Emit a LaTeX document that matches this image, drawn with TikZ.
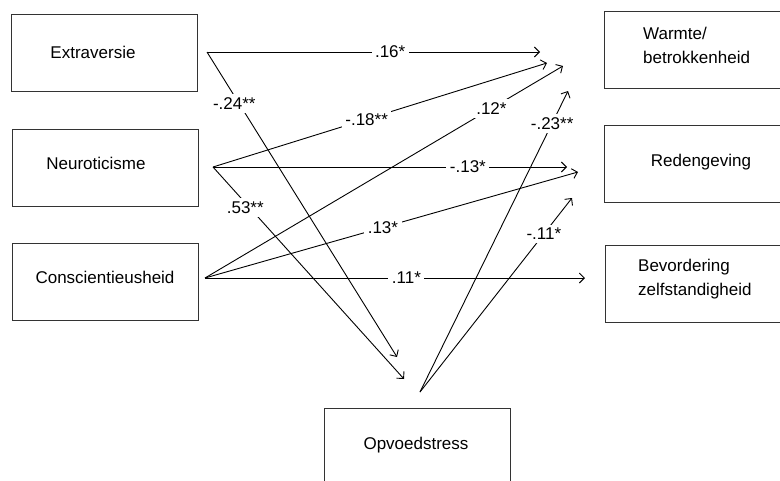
\documentclass[tikz,border=0pt]{standalone}
\usepackage{fontspec}
\setmainfont{Liberation Sans}
\usetikzlibrary{arrows.meta}
\begin{document}
\begin{tikzpicture}[x=1pt,y=-1pt,
  box/.style={draw=black!80, line width=1.3pt, inner sep=0pt, anchor=north west},
  txt/.style={font=\fontsize{17}{24}\selectfont, inner sep=0pt},
  conn/.style={draw=black, line width=0.9pt, -{Straight Barb[length=5pt,width=10pt]}},
  coef/.style={fill=white, font=\fontsize{17}{20}\selectfont, inner sep=3.5pt}]
\useasboundingbox (0,0) rectangle (780,480);
\clip (0,0) rectangle (780,480);
% boxes
\node[box, minimum width=186pt, minimum height=77pt] (ext) at (11,14) {};
\node[box, minimum width=186pt, minimum height=77pt] (neu) at (12,129) {};
\node[box, minimum width=186pt, minimum height=77pt] (con) at (12,243) {};
\node[box, minimum width=260pt, minimum height=77pt] (war) at (604,11) {};
\node[box, minimum width=260pt, minimum height=77pt] (red) at (604,125) {};
\node[box, minimum width=260pt, minimum height=77pt] (bev) at (605,245) {};
\node[box, minimum width=186pt, minimum height=120pt] (opv) at (324,408) {};
% texts
\node[txt] (extT) at (93,52) {Extraversie};
\node[txt] (neuT) at (96,163) {Neuroticisme};
\node[txt] (conT) at (105,277) {Conscientieusheid};
\node[txt, align=left, anchor=west] (warT) at (643,45) {Warmte/\\betrokkenheid};
\node[txt] (redT) at (701,162) {Redengeving};
\node[txt, align=left, anchor=west] (bevT) at (638,279) {Bevordering\\zelfstandigheid};
\node[txt] (opvT) at (416,445) {Opvoedstress};
% connector ends
\coordinate (sE) at (207,52);
\coordinate (sN) at (213,167);
\coordinate (sC) at (205,278);
\coordinate (sO) at (420,392);
\coordinate (e16) at (540,52);
\coordinate (e24) at (397,357);
\coordinate (e18) at (547,63);
\coordinate (e12) at (563,66);
\coordinate (e23) at (568,91);
\coordinate (e13n) at (567,167);
\coordinate (e53) at (404,379);
\coordinate (e13c) at (578,172);
\coordinate (e11c) at (585,278);
\coordinate (e11o) at (572,198);
% connectors
\draw[conn] (sE) -- node[coef,pos=.55]{.16*} (e16);
\draw[conn] (sE) -- node[coef,pos=.17,xshift=-5pt]{-.24**} (e24);
\draw[conn] (sN) -- node[coef,pos=.46]{-.18**} (e18);
\draw[conn] (sN) -- node[coef,pos=.72]{-.13*} (e13n);
\draw[conn] (sN) -- node[coef,pos=.19,xshift=-4pt]{.53**} (e53);
\draw[conn] (sC) -- node[coef,pos=.80]{.12*} (e12);
\draw[conn] (sC) -- node[coef,pos=.477]{.13*} (e13c);
\draw[conn] (sC) -- node[coef,pos=.53]{.11*} (e11c);
\draw[conn] (sO) -- node[coef,pos=.893]{-.23**} (e23);
\draw[conn] (sO) -- node[coef,pos=.815]{-.11*} (e11o);
\end{tikzpicture}
\end{document}
